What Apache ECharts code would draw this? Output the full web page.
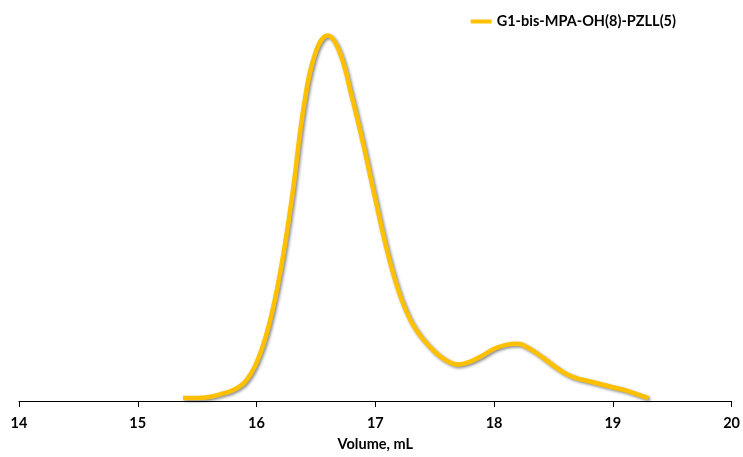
<!DOCTYPE html>
<html>
<head>
<meta charset="utf-8">
<script src="https://cdn.jsdelivr.net/npm/echarts@6/dist/echarts.min.js"></script>
<style>html,body{margin:0;padding:0;background:#fff}#c{width:743px;height:457px}</style>
</head>
<body>
<div id="c"></div>
<script>
const seriesName = 'G1-bis-MPA-OH(8)-PZLL(5)';
const xTicks = [14, 15, 16, 17, 18, 19, 20];
const volume = [15.38, 15.5, 15.6, 15.7, 15.8, 15.9, 16.0, 16.1, 16.2, 16.3, 16.4, 16.5, 16.6, 16.7, 16.8, 16.9, 17.0, 17.1, 17.2, 17.3, 17.4, 17.5, 17.6, 17.7, 17.8, 17.9, 18.0, 18.1, 18.2, 18.3, 18.4, 18.5, 18.6, 18.7, 18.8, 18.9, 19.0, 19.1, 19.2, 19.3];
const signal = [3, 3, 4, 7, 11, 19, 39, 75, 131, 208, 301, 355, 371, 354, 310, 260, 205, 152, 110, 81, 63, 50, 41, 37, 40, 46, 53, 57, 58, 53, 45, 36, 28, 23, 20, 17, 14, 11, 7, 3];

const chart = echarts.init(document.getElementById('c'));
const font = 'Lato, "Open Sans", sans-serif';
chart.setOption({
  animation: false,
  grid: {left: 19, right: 8, top: 7, bottom: 50},
  legend: {
    right: 62, top: 9,
    icon: 'rect', itemWidth: 21, itemHeight: 4, itemGap: 4,
    textStyle: {fontFamily: font, fontWeight: 'bold', fontSize: 14.5, color: '#000'},
    data: [seriesName]
  },
  xAxis: {
    type: 'value', min: xTicks[0], max: xTicks[xTicks.length - 1], interval: 1,
    name: 'Volume, mL', nameLocation: 'middle', nameGap: 36,
    nameTextStyle: {fontFamily: font, fontWeight: 'bold', fontSize: 14.5, color: '#000'},
    axisLine: {lineStyle: {color: '#000', width: 1}},
    axisTick: {show: true, length: 6, lineStyle: {color: '#000'}},
    axisLabel: {fontFamily: font, fontWeight: 'bold', fontSize: 14.5, color: '#000', margin: 15},
    splitLine: {show: false}
  },
  yAxis: {type: 'value', min: 0, max: 400, show: false},
  series: [{
    name: seriesName, type: 'line', smooth: 0.4, symbol: 'none',
    data: volume.map((v, i) => [v, signal[i]]),
    itemStyle: {color: '#FFC000'},
    lineStyle: {color: '#FFC000', width: 4.5, shadowColor: 'rgba(0,0,0,0.45)', shadowBlur: 3, shadowOffsetX: 1.5, shadowOffsetY: 1.5}
  }]
});
</script>
</body>
</html>
